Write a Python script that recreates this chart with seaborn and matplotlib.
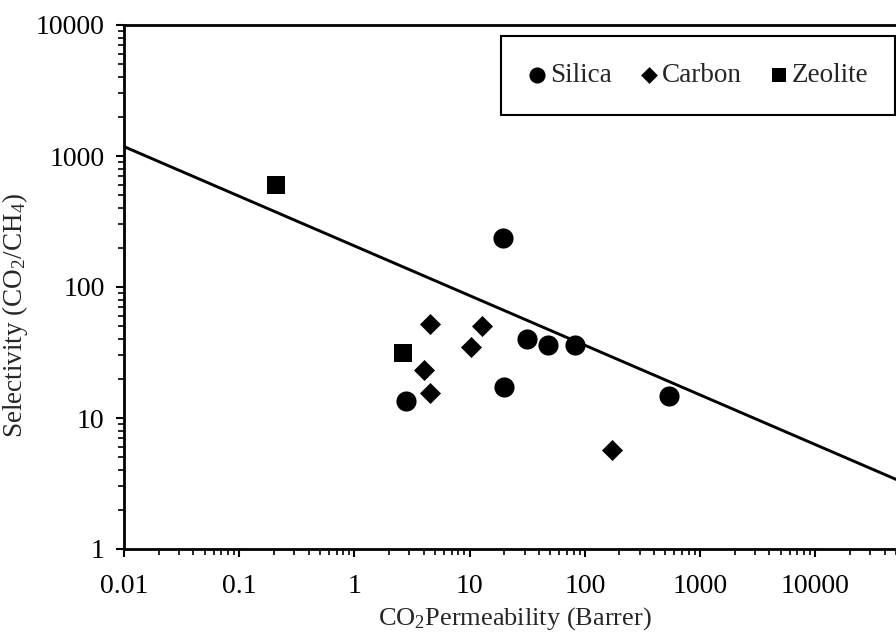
import numpy as np
import pandas as pd
import matplotlib
matplotlib.use("Agg")
import matplotlib.pyplot as plt
import matplotlib.ticker as mticker
import seaborn as sns

# ---- data ----
silica_x = [19.4, 2.8, 19.9, 31.7, 48.2, 82.2, 542]
silica_y = [235, 13.5, 17.3, 39.9, 36.1, 36.1, 14.7]
carbon_x = [4.5, 12.9, 10.2, 4.0, 4.5, 171]
carbon_y = [52.2, 50.4, 35.0, 23.2, 15.6, 5.7]
zeolite_x = [0.21, 2.66]
zeolite_y = [601, 31.2]
bound_x = [0.01, 100000]
bound_y = [1180, 2.62]

x_ticks = [0.01, 0.1, 1, 10, 100, 1000, 10000]
x_ticklabels = ["0.01", "0.1", "1", "10", "100", "1000", "10000"]
y_ticks = [1, 10, 100, 1000, 10000]
y_ticklabels = ["1", "10", "100", "1000", "10000"]

materials = ["Silica", "Carbon", "Zeolite"]

df = pd.DataFrame({
    "x": silica_x + carbon_x + zeolite_x,
    "y": silica_y + carbon_y + zeolite_y,
    "Material": ["Silica"] * len(silica_x) + ["Carbon"] * len(carbon_x) + ["Zeolite"] * len(zeolite_x),
})
line_df = pd.DataFrame({"x": bound_x, "y": bound_y})

sns.set_style("ticks")
plt.rcParams["font.family"] = ["Liberation Serif", "DejaVu Serif"]
plt.rcParams["mathtext.fontset"] = "custom"
plt.rcParams["mathtext.rm"] = "Liberation Serif"
plt.rcParams["mathtext.it"] = "Liberation Serif:italic"
plt.rcParams["mathtext.bf"] = "Liberation Serif:bold"

fig = plt.figure(figsize=(8.96, 6.36), dpi=100)
ax = fig.add_axes([124 / 896, 1 - 549 / 636, 772 / 896, 524 / 636])

sns.lineplot(data=line_df, x="x", y="y", color="black", linewidth=2.1, ax=ax, legend=False)

markers = {"Silica": "o", "Carbon": "D", "Zeolite": "s"}
sizes_map = {"Silica": 210, "Carbon": 115, "Zeolite": 150}
for m in materials:
    sub = df[df["Material"] == m]
    sns.scatterplot(data=sub, x="x", y="y", marker=markers[m], s=sizes_map[m],
                    color="black", edgecolor="black", linewidth=0, ax=ax, label=m)

ax.set_xscale("log")
ax.set_yscale("log")
ax.set_xlim(0.01, 10 ** (772 / 115.2 - 2))
ax.set_ylim(1, 10000)

ax.set_xticks(x_ticks)
ax.set_xticklabels(x_ticklabels)
ax.set_yticks(y_ticks)
ax.set_yticklabels(y_ticklabels)
ax.xaxis.set_minor_locator(mticker.LogLocator(base=10, subs=np.arange(2, 10)))
ax.yaxis.set_minor_locator(mticker.LogLocator(base=10, subs=np.arange(2, 10)))
ax.xaxis.set_minor_formatter(mticker.NullFormatter())
ax.yaxis.set_minor_formatter(mticker.NullFormatter())

ax.tick_params(axis="both", which="major", direction="out", length=6, width=1.5,
               labelsize=20, colors="black")
ax.tick_params(axis="x", which="major", pad=12)
ax.tick_params(axis="y", which="major", pad=8)
ax.tick_params(axis="both", which="minor", direction="out", length=4, width=1.2, colors="black")

for side in ["left", "bottom", "top"]:
    ax.spines[side].set_linewidth(2)
    ax.spines[side].set_color("black")
ax.spines["right"].set_visible(False)

ax.set_xlabel(r"CO$_\mathrm{2}$Permeability (Barrer)", fontsize=19)
ax.set_ylabel(r"Selectivity (CO$_\mathrm{2}$/CH$_\mathrm{4}$)", fontsize=19.5)
ax.xaxis.set_label_coords((515 - 124) / 772, -(605 - 549) / 524)
ax.yaxis.set_label_coords((30 - 124) / 772, (549 - 315) / 524)

handles, labels = ax.get_legend_handles_labels()
leg = ax.legend(handles=handles, labels=labels, ncol=3, loc="upper right",
                bbox_to_anchor=(0.999, 0.979), borderaxespad=0, fontsize=19.5,
                frameon=True, fancybox=False, edgecolor="black", borderpad=1.0,
                handletextpad=0.1, columnspacing=1.05, handlelength=0.7, markerscale=0.8)
leg.get_frame().set_linewidth(1.5)
leg.get_frame().set_alpha(1)

fig.savefig("out.png", dpi=100)
